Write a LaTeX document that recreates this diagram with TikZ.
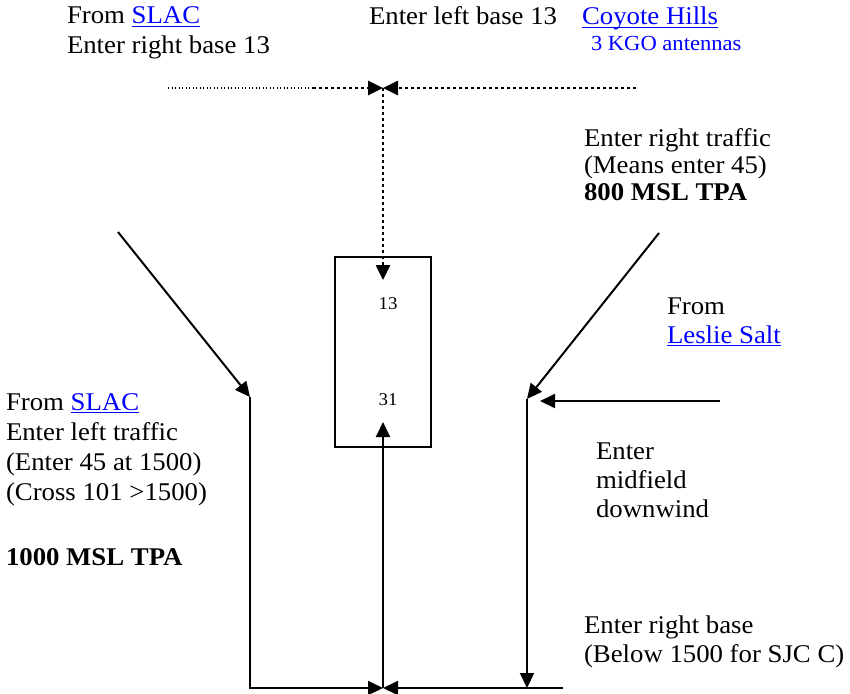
\documentclass[tikz,border=0pt]{standalone}
\usepackage{fontspec}
\setmainfont{Liberation Serif}[FakeStretch=1.05]
\usetikzlibrary{arrows.meta}
\definecolor{linkblue}{RGB}{0,0,255}
% blue link text with a thin underline just under the baseline
\newcommand\weblink[1]{\textcolor{linkblue}{\setbox0\hbox{#1}\rlap{\rule[-3pt]{\wd0}{1.3pt}}\box0}}

\begin{document}
\begin{tikzpicture}[x=1pt,y=-1pt,line width=2pt,>={Triangle[length=15pt,width=14pt]}]
    \tikzset{every node/.style={inner sep=0pt,font=\fontsize{25.5}{29}\selectfont},
        txt/.style={anchor=base west,align=left},
        rwynum/.style={font=\fontsize{18}{20}\selectfont},
        coarsedots/.style={line width=2.6pt,dash pattern=on 2.6pt off 3.4pt},
        finedots/.style={line width=1.3pt,dash pattern=on 1.3pt off 2.2pt}}
    \useasboundingbox (0,0) rectangle (850,693);
    % runway
    \node[draw,minimum width=96pt,minimum height=190pt] (rwy) at (383,352) {};
    \node[rwynum] (n13) at (388,304) {13};
    \node[rwynum] (n31) at (388,400) {31};
    % corner and end points
    \coordinate (tl) at (168,88);
    \coordinate (tm) at (313,88);
    \coordinate (tc) at (383,88);
    \coordinate (tr) at (636,88);
    \coordinate (ls) at (118,232);
    \coordinate (lk) at (250,397);
    \coordinate (lb) at (250,688);
    \coordinate (bc) at (383,688);
    \coordinate (br) at (563,688);
    \coordinate (rs) at (659,233);
    \coordinate (rk) at (527,399);
    \coordinate (rb) at (527,688);
    \coordinate (le) at (720,401);
    % top: base 13 from both sides
    \draw[finedots] (tl)--(tm);
    \draw[coarsedots,->] (tm)--(tc);
    \draw[coarsedots,->] (tr)--(tc);
    \draw[coarsedots,->] (tc)--(383,280);
    % left traffic
    \draw[->] (ls)--(lk);
    \draw[->] (lk)--(lb)--(bc);
    \draw[->] (bc)--(383,422);
    % right traffic
    \draw[->] (rs)--(rk);
    \draw[->] (le)--([xshift=13pt]rk|-le);
    \draw[->] (rk)--(rb);
    \draw[->] (br)--(bc);
    % texts (base = baseline of last line)
    \node[txt] (slacbase) at (66,53) {From \weblink{SLAC}\\Enter right base 13};
    \node[txt] (leftbase) at (368,25) {Enter left base 13};
    \node[txt] (coyote) at (581,25) {\weblink{Coyote Hills}};
    \node[txt,font=\fontsize{21.5}{24}\selectfont,text=linkblue] (kgo) at (590,50) {3 KGO antennas};
    \node[txt,font=\fontsize{25.5}{27}\selectfont] (righttfc) at (583,200) {Enter right traffic\\(Means enter 45)\\\textbf{800 MSL TPA}};
    \node[txt] (leslie) at (666,343) {From\\\weblink{Leslie Salt}};
    \node[txt] (midfield) at (595,517) {Enter\\midfield\\downwind};
    \node[txt] (rightbase) at (583,662) {Enter right base\\(Below 1500 for SJC C)};
    \node[txt,font=\fontsize{25.5}{30}\selectfont] (lefttfc) at (5,565) {From \weblink{SLAC}\\Enter left traffic\\(Enter 45 at 1500)\\(Cross 101 >1500)\\[5pt]\\\textbf{1000 MSL TPA}};
\end{tikzpicture}
\end{document}
